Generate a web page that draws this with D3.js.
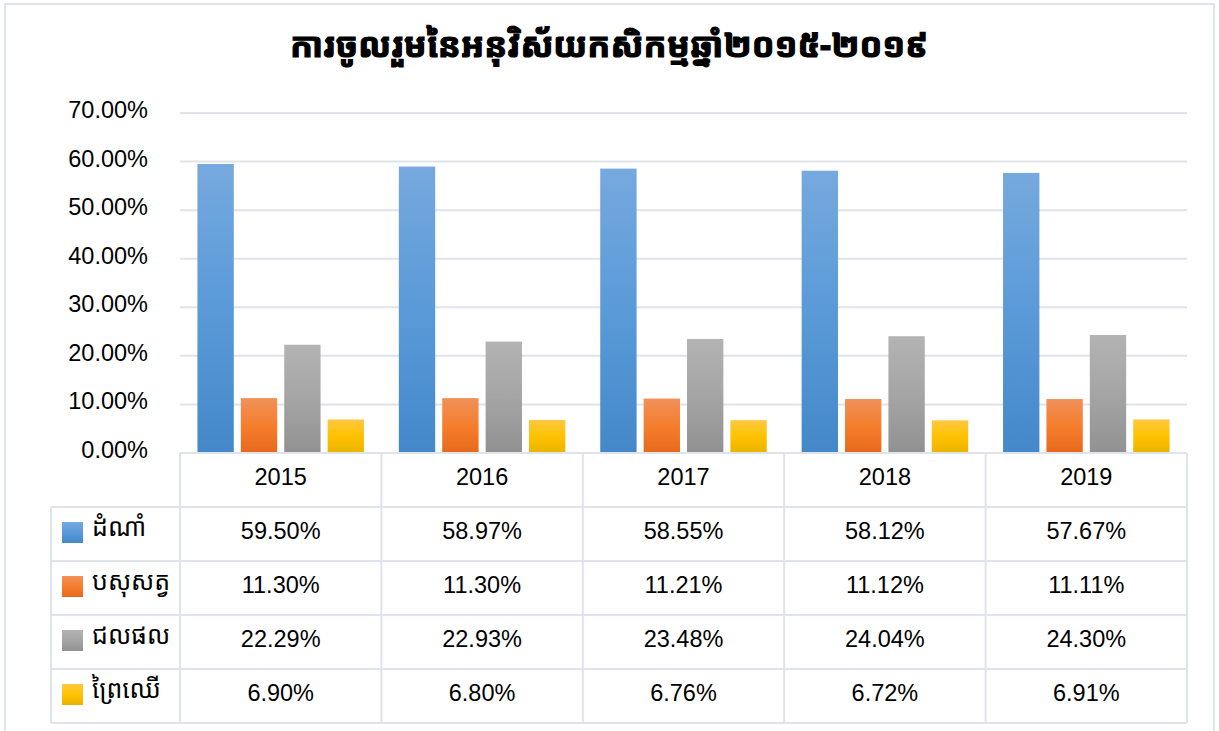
<!DOCTYPE html>
<html>
<head>
<meta charset="utf-8">
<script src="https://cdn.jsdelivr.net/npm/d3@7"></script>
<style>
  body { margin: 0; background: #fff; }
  text { font-family: "Liberation Sans", Arial, sans-serif; fill: #000; }
  .kh { font-family: "Noto Sans Khmer", "Khmer OS", "Noto Sans", sans-serif; }
</style>
</head>
<body>
<div id="chart"></div>
<script>
// Chart data
var title = "ការចូលរួមនៃអនុវិស័យកសិកម្មឆ្នាំ២០១៥-២០១៩";
var years = ["2015", "2016", "2017", "2018", "2019"];
var seriesNames = ["ដំណាំ", "បសុសត្វ", "ជលផល", "ព្រៃឈើ"];
var crops = [59.50, 58.97, 58.55, 58.12, 57.67];
var livestock = [11.30, 11.30, 11.21, 11.12, 11.11];
var fishery = [22.29, 22.93, 23.48, 24.04, 24.30];
var forestry = [6.90, 6.80, 6.76, 6.72, 6.91];
var yTicks = [0, 10, 20, 30, 40, 50, 60, 70];

var seriesValues = [crops, livestock, fishery, forestry];
// gradient stops per series: top, middle, bottom
var seriesColors = [
  ["#76a9de", "#5a9ad8", "#4488ca"],
  ["#f0915a", "#f57e2d", "#e6691b"],
  ["#b3b3b3", "#a5a5a5", "#919191"],
  ["#ffc842", "#ffc200", "#eab300"]
];

var svgWidth = 1219;
var svgHeight = 731;
var gridColor = "#dfe3ea";

var svg = d3.select("#chart")
  .append("svg")
  .attr("width", svgWidth)
  .attr("height", svgHeight);

// outer border
svg.append("rect")
  .attr("x", 5).attr("y", 4)
  .attr("width", 1209).attr("height", 740)
  .attr("fill", "none")
  .attr("stroke", gridColor)
  .attr("stroke-width", 2);

// gradients
var defs = svg.append("defs");
seriesColors.forEach(function(c, i) {
  var g = defs.append("linearGradient")
    .attr("id", "grad" + i)
    .attr("x1", 0).attr("y1", 0).attr("x2", 0).attr("y2", 1);
  g.append("stop").attr("offset", "0%").attr("stop-color", c[0]);
  g.append("stop").attr("offset", "50%").attr("stop-color", c[1]);
  g.append("stop").attr("offset", "100%").attr("stop-color", c[2]);
});

// Title (heavier look via thin stroke)
svg.append("text")
  .attr("class", "kh")
  .attr("x", 609)
  .attr("y", 57)
  .attr("text-anchor", "middle")
  .style("font-size", "34px")
  .style("font-weight", "bold")
  .style("stroke", "#000")
  .style("stroke-width", "1.2px")
  .text(title);

// Scales
var plotLeft = 180, plotRight = 1187;
var x0 = d3.scaleBand()
  .domain(years)
  .range([plotLeft, plotRight])
  .padding(0);

var x1 = d3.scaleBand()
  .domain(d3.range(seriesNames.length))
  .range([0, x0.bandwidth()])
  .paddingInner(0.162)
  .paddingOuter(0.402);

var y = d3.scaleLinear()
  .domain([0, 70])
  .range([453, 113]);

// Gridlines
svg.append("g")
  .selectAll("line")
  .data(yTicks)
  .enter()
  .append("line")
  .attr("x1", plotLeft)
  .attr("x2", plotRight)
  .attr("y1", d => y(d))
  .attr("y2", d => y(d))
  .attr("stroke", gridColor)
  .attr("stroke-width", 2);

// Y axis
var leftAxis = d3.axisLeft(y)
  .tickValues(yTicks)
  .tickSize(0)
  .tickPadding(0)
  .tickFormat(d => d.toFixed(2) + "%");

var yAxisGroup = svg.append("g")
  .attr("transform", "translate(148, -3)")
  .call(leftAxis);
yAxisGroup.select(".domain").remove();
yAxisGroup.selectAll("text")
  .attr("fill", "#000")
  .style("font-family", "'Liberation Sans', Arial, sans-serif")
  .style("font-size", "23.5px");

// Bars
var groups = svg.append("g")
  .selectAll("g")
  .data(years)
  .enter()
  .append("g")
  .attr("transform", d => "translate(" + x0(d) + ",0)");

groups.selectAll("rect")
  .data((d, i) => seriesValues.map((vals, s) => ({ s: s, v: vals[i] })))
  .enter()
  .append("rect")
  .attr("x", d => x1(d.s))
  .attr("width", x1.bandwidth())
  .attr("y", d => y(d.v))
  .attr("height", d => y(0) - y(d.v))
  .attr("fill", d => "url(#grad" + d.s + ")");

// Data table
var rowTop = 453, rowH = 54, tableLeft = 51;
var table = svg.append("g");

// header row (years)
years.forEach(function(yr) {
  table.append("text")
    .attr("x", x0(yr) + x0.bandwidth() / 2)
    .attr("y", rowTop + rowH / 2 - 1)
    .attr("text-anchor", "middle")
    .attr("dominant-baseline", "middle")
    .style("font-size", "23.5px")
    .text(yr);
});

seriesNames.forEach(function(name, s) {
  var top = rowTop + rowH * (s + 1);
  table.append("rect")
    .attr("x", 62).attr("y", top + 15)
    .attr("width", 21).attr("height", 21)
    .attr("fill", "url(#grad" + s + ")");
  table.append("text")
    .attr("class", "kh")
    .attr("x", 92)
    .attr("y", top + rowH / 2 + 2)
    .style("font-size", "25px")
    .text(name);
  seriesValues[s].forEach(function(v, i) {
    table.append("text")
      .attr("x", x0(years[i]) + x0.bandwidth() / 2)
      .attr("y", top + rowH / 2 - 1)
      .attr("text-anchor", "middle")
      .attr("dominant-baseline", "middle")
      .style("font-size", "23.5px")
      .text(v.toFixed(2) + "%");
  });
});

// table grid lines
var tableBottom = rowTop + rowH * (seriesNames.length + 1);
var hLines = d3.range(seriesNames.length + 2).map(i => rowTop + rowH * i);
table.selectAll("line.h")
  .data(hLines)
  .enter()
  .append("line")
  .attr("x1", (d, i) => i < 1 ? plotLeft : tableLeft)
  .attr("x2", plotRight)
  .attr("y1", d => d)
  .attr("y2", d => d)
  .attr("stroke", gridColor)
  .attr("stroke-width", 2);

var vLines = years.map(yr => x0(yr)).concat([plotRight]);
table.selectAll("line.v")
  .data(vLines)
  .enter()
  .append("line")
  .attr("x1", d => d)
  .attr("x2", d => d)
  .attr("y1", rowTop)
  .attr("y2", tableBottom)
  .attr("stroke", gridColor)
  .attr("stroke-width", 2);

table.append("line")
  .attr("x1", tableLeft).attr("x2", tableLeft)
  .attr("y1", rowTop + rowH).attr("y2", tableBottom)
  .attr("stroke", gridColor)
  .attr("stroke-width", 2);
</script>
</body>
</html>
